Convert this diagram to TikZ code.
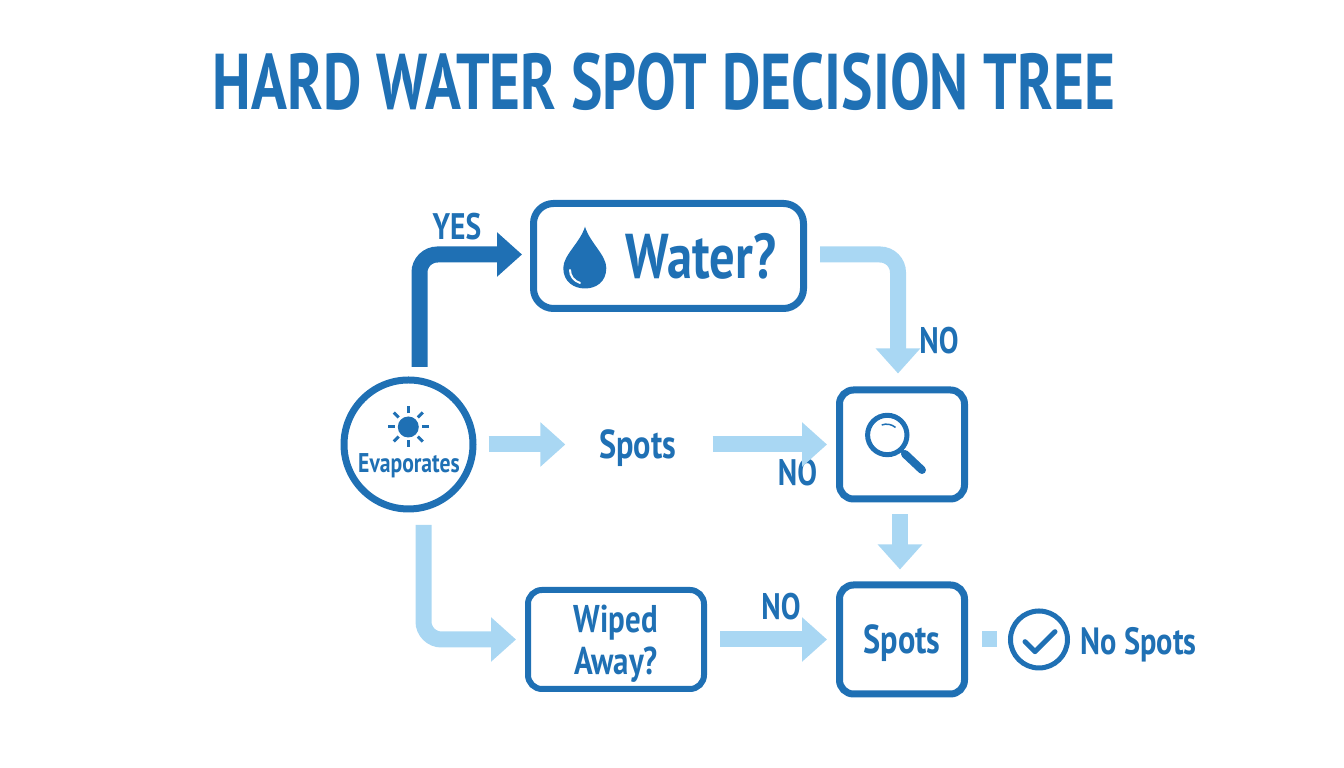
\documentclass[tikz,border=0pt]{standalone}
\usepackage{fontspec}
\setmainfont{PT Sans}[FakeStretch=0.8]
\newfontface\titlefont{PT Sans Bold}[FakeStretch=0.75]
\usetikzlibrary{arrows.meta}
\definecolor{darkblue}{HTML}{1F70B4}
\definecolor{lightblue}{HTML}{A9D7F3}
\tikzset{
  head/.style={-{Triangle[length=2.5mm,width=4.3mm]}},
  flow/.style={draw=lightblue,line width=0.16cm,rounded corners=0.18cm,head},
  darkflow/.style={flow,draw=darkblue},
  box/.style={draw=darkblue,line width=0.07cm,rounded corners=0.14cm},
  lbl/.style={inner sep=0pt,text depth=0pt,text=darkblue,font=\bfseries\fontsize{#1}{#1}\selectfont},
  icon/.style={draw=darkblue,line width=0.05cm,line cap=round}
}
\begin{document}
\begin{tikzpicture}
\useasboundingbox (0,0) rectangle (13.44,7.68);
\node[inner sep=0pt,text depth=0pt,text=darkblue,font=\titlefont\fontsize{22.5pt}{22.5pt}\selectfont] (title) at (6.64,6.87) {HARD WATER SPOT DECISION TREE};
\node[box,minimum width=2.70cm,minimum height=1.05cm,rounded corners=0.2cm] (water) at (6.685,5.12) {};
\node[lbl=18pt] (waterlbl) at (7.01,5.12) {Water?};
\node[box,circle,minimum size=1.29cm] (evap) at (4.085,3.235) {};
\node[lbl=7.7pt] (evaplbl) at (4.09,3.05) {Evaporates};
\node[lbl=11.5pt] (spotsmid) at (6.375,3.235) {Spots};
\node[box,minimum width=1.25cm,minimum height=1.09cm] (search) at (9.02,3.235) {};
\node[box,minimum width=1.25cm,minimum height=1.09cm,lbl=11.5pt,text=darkblue] (spotsb) at (9.02,1.285) {Spots};
\node[box,minimum width=1.76cm,minimum height=0.99cm,line width=0.06cm,align=center,lbl=11pt,inner sep=0pt] (wiped) at (6.16,1.285) {Wiped\\[1pt]Away?};
\node[draw=darkblue,line width=0.05cm,circle,minimum size=0.57cm,inner sep=0pt] (check) at (10.39,1.285) {};
\node[lbl=10.8pt] (nospots) at (11.385,1.27) {No Spots};
\node[lbl=10.5pt] (yes) at (4.57,5.42) {YES};
\node[lbl=10.5pt] (noa) at (9.39,4.28) {NO};
\node[lbl=10.5pt] (nob) at (7.975,2.96) {NO};
\node[lbl=10.5pt] (noc) at (7.81,1.615) {NO};
\coordinate (yesfrom) at (4.195,4.01);
\coordinate (wipefrom) at (4.235,2.43);
\draw[darkflow,shorten >=0.08cm] (yesfrom) |- ([yshift=0.015cm]water.west);
\draw[flow,shorten <=0.13cm,shorten >=0.13cm] ([yshift=0.015cm]water.east) -| ([xshift=-0.04cm]search.north);
\draw[flow,shorten <=0.12cm,shorten >=0.33cm] (evap.east) -- (spotsmid.west);
\draw[flow,shorten <=0.36cm,shorten >=0.09cm] (spotsmid.east) -- (search.west);
\draw[flow,shorten <=0.12cm,shorten >=0.12cm] ([xshift=-0.02cm]search.south) -- ([xshift=-0.02cm]spotsb.north);
\draw[flow,shorten >=0.09cm] (wipefrom) |- (wiped.west);
\draw[flow,shorten <=0.13cm,shorten >=0.09cm] (wiped.east) -- (spotsb.west);
\draw[draw=lightblue,line width=0.16cm,shorten <=0.14cm,shorten >=0.11cm] (spotsb.east) -- (check.west);
% sun
\fill[darkblue] (4.083,3.41) circle (0.105);
\foreach \a in {0,45,...,315}
  \draw[darkblue,line width=0.03cm] (4.083,3.41)++(\a:0.135) -- ++(\a:0.07);
% drop
\fill[darkblue] (5.85,5.413) .. controls (5.80,5.25) and (5.633,5.13) .. (5.633,5.00) .. controls (5.633,4.86) and (5.74,4.795) .. (5.85,4.795) .. controls (5.96,4.795) and (6.063,4.86) .. (6.063,5.00) .. controls (6.063,5.13) and (5.90,5.25) .. (5.85,5.413);
\draw[white,line width=0.02cm,line cap=round] (5.70,4.98) .. controls (5.70,4.92) and (5.74,4.87) .. (5.80,4.85);
% lens
\draw[icon] (8.873,3.33) circle (0.197);
\draw[darkblue,line width=0.015cm] (8.817,3.43) arc (110:50:0.14);
\draw[darkblue,line width=0.035cm] (9.00,3.19) -- (9.06,3.13);
\draw[darkblue,line width=0.08cm,line cap=round] (9.05,3.14) -- (9.22,2.98);
% tick
\draw[icon,line join=round] (10.25,1.263) -- (10.35,1.163) -- (10.55,1.363);
\end{tikzpicture}
\end{document}
